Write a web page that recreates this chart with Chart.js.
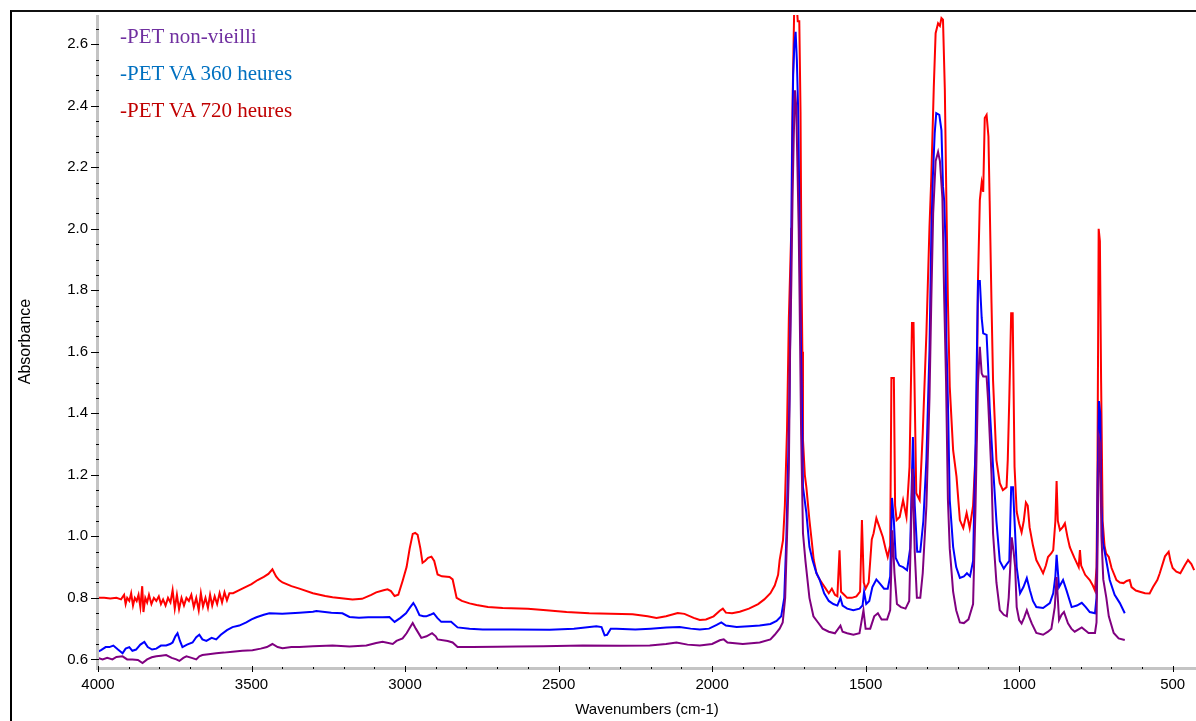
<!DOCTYPE html>
<html>
<head>
<meta charset="utf-8">
<script src="https://cdn.jsdelivr.net/npm/chart.js@4.4.1/dist/chart.umd.min.js"></script>
<style>
  html, body { margin: 0; padding: 0; background: #fff; }
  #wrap { position: relative; width: 1196px; height: 721px; overflow: hidden; }
  #frame { position: absolute; left: 10px; top: 10px; width: 1200px; height: 720px;
           border-left: 2px solid #000; border-top: 2px solid #111; pointer-events: none; }
  .leg { position: absolute; left: 120px; font-family: "Liberation Serif", "Times New Roman", serif;
         font-size: 21px; line-height: 21px; white-space: nowrap; }
</style>
</head>
<body>
<div id="wrap">
  <canvas id="chart" width="1196" height="721"></canvas>
  <div id="frame"></div>
  <div class="leg" style="top:26px;color:#7030a0">-PET non-vieilli</div>
  <div class="leg" style="top:63px;color:#0070c0">-PET VA 360 heures</div>
  <div class="leg" style="top:100px;color:#c00000">-PET VA 720 heures</div>
</div>
<script>
// tick labels
const xTicks = [4000, 3500, 3000, 2500, 2000, 1500, 1000, 500];
const yTicks = [0.6, 0.8, 1.0, 1.2, 1.4, 1.6, 1.8, 2.0, 2.2, 2.4, 2.6];

// PET VA 720 heures (red)
const redWn = [4000,3980,3960,3940,3925,3915,3910,3905,3898,3892,3886,3880,3874,3868,3862,3856,3852,3846,3840,3834,3826,3818,3810,3802,3795,3788,3780,3772,3764,3757,3750,3743,3736,3728,3720,3712,3704,3696,3688,3680,3672,3665,3658,3650,3642,3635,3628,3620,3612,3604,3596,3588,3580,3572,3560,3540,3520,3500,3480,3460,3445,3432,3420,3410,3399,3370,3344,3300,3260,3236,3200,3171,3140,3110,3094,3070,3057,3046,3034,3022,3008,2995,2985,2975,2967,2959,2950,2943,2935,2925,2914,2905,2894,2880,2855,2845,2832,2815,2790,2767,2730,2682,2600,2540,2474,2400,2330,2259,2210,2181,2150,2112,2090,2060,2040,2020,1995,1975,1965,1955,1935,1910,1880,1850,1830,1810,1796,1785,1780,1769,1763,1756,1750,1742,1740,1737,1732,1726,1721,1716,1712,1709,1706,1704,1698,1693,1683,1675,1669,1660,1650,1640,1630,1620,1610,1600,1592,1585,1580,1570,1560,1545,1530,1518,1512,1506,1500,1490,1480,1474,1465,1455,1444,1435,1428,1420,1416,1408,1404,1399,1389,1378,1367,1357,1349,1344,1335,1324,1314,1302,1292,1286,1278,1272,1264,1258,1253,1248,1242,1237,1232,1226,1215,1204,1193,1182,1171,1161,1150,1139,1134,1128,1122,1117,1112,1106,1100,1096,1090,1085,1074,1063,1053,1041,1037,1032,1026,1021,1015,1008,1000,992,985,978,972,966,955,944,932,922,913,906,895,889,882,878,874,867,858,851,843,835,820,806,802,798,785,770,760,753,748,745,741,737,733,728,722,717,708,699,683,672,660,650,640,634,620,607,590,575,564,550,542,525,513,507,500,488,475,461,450,439,430,424];
const redAbs = [0.80,0.80,0.798,0.80,0.795,0.81,0.78,0.80,0.79,0.815,0.775,0.80,0.79,0.81,0.77,0.838,0.754,0.80,0.785,0.81,0.78,0.80,0.79,0.805,0.78,0.795,0.775,0.80,0.785,0.825,0.765,0.81,0.763,0.80,0.775,0.80,0.79,0.81,0.77,0.80,0.76,0.815,0.772,0.80,0.768,0.81,0.775,0.805,0.78,0.815,0.785,0.818,0.792,0.815,0.815,0.825,0.835,0.845,0.858,0.868,0.878,0.893,0.87,0.858,0.85,0.838,0.83,0.815,0.806,0.802,0.798,0.795,0.797,0.81,0.818,0.825,0.828,0.822,0.806,0.81,0.855,0.90,0.96,1.008,1.011,1.005,0.96,0.914,0.92,0.93,0.934,0.92,0.876,0.87,0.868,0.86,0.80,0.79,0.782,0.777,0.77,0.767,0.765,0.76,0.754,0.75,0.748,0.747,0.74,0.735,0.74,0.751,0.748,0.735,0.728,0.73,0.74,0.758,0.765,0.752,0.75,0.755,0.765,0.78,0.795,0.815,0.84,0.875,0.923,0.988,1.10,1.346,1.71,2.0,2.235,2.46,2.75,2.75,2.675,2.675,2.38,1.876,1.60,1.313,1.20,1.16,1.053,0.98,0.923,0.88,0.86,0.845,0.83,0.815,0.83,0.81,0.805,0.955,0.82,0.81,0.80,0.80,0.805,0.82,1.053,0.85,0.83,0.85,0.99,1.01,1.059,1.03,0.998,0.96,0.933,0.97,1.515,1.515,1.10,1.053,1.063,1.118,1.063,1.226,1.694,1.694,1.14,1.118,1.335,1.66,2.006,2.168,2.46,2.636,2.668,2.66,2.685,2.68,2.452,2.094,1.767,1.486,1.28,1.194,1.053,1.027,1.076,1.027,1.10,1.335,1.834,2.093,2.15,2.12,2.36,2.37,2.30,2.09,1.758,1.508,1.248,1.173,1.15,1.16,1.25,1.45,1.725,1.725,1.226,1.08,1.042,1.013,1.05,1.11,1.10,1.03,0.97,0.923,0.90,0.88,0.905,0.933,0.945,0.955,1.05,1.18,1.05,1.02,1.03,1.042,1.00,0.965,0.93,0.90,0.955,0.905,0.875,0.858,0.84,0.824,0.90,1.20,2.0,1.96,1.50,1.05,0.97,0.945,0.933,0.897,0.858,0.85,0.848,0.855,0.858,0.835,0.824,0.82,0.815,0.814,0.835,0.858,0.88,0.935,0.95,0.92,0.897,0.885,0.88,0.905,0.923,0.91,0.89];

// PET VA 360 heures (blue)
const blueWn = [4000,3990,3975,3963,3950,3935,3920,3910,3898,3888,3876,3862,3849,3838,3824,3810,3795,3778,3765,3757,3748,3741,3733,3725,3710,3692,3680,3670,3660,3647,3630,3615,3600,3580,3562,3540,3517,3500,3484,3460,3442,3400,3344,3300,3289,3240,3204,3181,3150,3120,3073,3051,3034,3015,2997,2983,2973,2965,2953,2940,2931,2918,2907,2895,2882,2860,2850,2829,2790,2747,2650,2529,2450,2377,2360,2350,2342,2330,2312,2250,2200,2149,2106,2070,2040,2010,1985,1970,1955,1920,1880,1845,1810,1790,1775,1765,1758,1752,1748,1744,1740,1736,1732,1728,1724,1720,1716,1713,1708,1704,1693,1683,1673,1660,1650,1635,1620,1605,1592,1582,1575,1560,1540,1520,1510,1505,1498,1488,1478,1465,1452,1440,1428,1420,1414,1408,1402,1390,1378,1365,1355,1346,1340,1332,1322,1312,1302,1292,1286,1281,1275,1270,1260,1253,1248,1244,1240,1237,1232,1226,1215,1205,1193,1180,1170,1160,1150,1142,1134,1128,1122,1117,1106,1101,1096,1085,1074,1063,1050,1040,1032,1026,1020,1014,1008,997,986,975,965,955,944,922,900,889,882,878,870,857,846,829,812,796,783,770,753,748,744,740,736,732,727,716,705,689,672,656];
const blueAbs = [0.625,0.63,0.64,0.64,0.645,0.632,0.62,0.635,0.64,0.628,0.632,0.648,0.657,0.64,0.632,0.635,0.645,0.645,0.65,0.655,0.675,0.685,0.66,0.64,0.648,0.655,0.672,0.68,0.665,0.66,0.67,0.665,0.68,0.695,0.705,0.71,0.72,0.73,0.737,0.745,0.75,0.748,0.752,0.755,0.757,0.752,0.75,0.738,0.735,0.737,0.737,0.738,0.722,0.735,0.75,0.77,0.783,0.77,0.744,0.74,0.74,0.745,0.75,0.735,0.722,0.722,0.722,0.704,0.70,0.697,0.697,0.696,0.70,0.708,0.705,0.678,0.68,0.70,0.70,0.697,0.70,0.704,0.705,0.70,0.697,0.70,0.712,0.72,0.71,0.705,0.708,0.71,0.715,0.725,0.74,0.80,1.0,1.26,1.45,1.80,2.20,2.50,2.60,2.64,2.55,2.40,2.10,1.77,1.465,1.16,1.076,0.966,0.923,0.88,0.86,0.815,0.79,0.78,0.775,0.80,0.775,0.765,0.76,0.765,0.775,0.82,0.78,0.79,0.835,0.86,0.845,0.83,0.83,0.87,1.125,1.05,0.93,0.905,0.90,0.89,0.96,1.323,1.10,0.95,0.95,1.05,1.25,1.606,1.985,2.17,2.31,2.376,2.37,2.32,2.137,2.09,1.96,1.64,1.44,1.118,0.966,0.90,0.865,0.87,0.88,0.87,0.92,1.30,1.83,1.83,1.71,1.66,1.655,1.55,1.42,1.226,1.05,0.92,0.895,0.91,0.92,1.16,1.16,1.03,0.90,0.815,0.835,0.864,0.825,0.79,0.77,0.767,0.783,0.815,0.87,0.94,0.835,0.858,0.825,0.77,0.775,0.784,0.77,0.754,0.75,0.80,1.20,1.44,1.40,1.10,0.98,0.92,0.858,0.81,0.783,0.75];

// PET non-vieilli (purple)
const purpleWn = [4000,3985,3970,3953,3940,3920,3905,3888,3870,3855,3840,3825,3810,3795,3778,3760,3745,3735,3722,3712,3695,3680,3670,3660,3640,3615,3590,3562,3530,3497,3470,3450,3432,3415,3399,3370,3344,3300,3236,3181,3126,3094,3073,3040,3028,3008,2995,2983,2975,2965,2947,2930,2912,2900,2894,2861,2845,2829,2780,2700,2638,2550,2421,2300,2203,2150,2116,2080,2040,2000,1975,1962,1950,1900,1845,1810,1796,1780,1770,1762,1756,1750,1746,1742,1738,1734,1730,1726,1722,1718,1715,1710,1704,1696,1683,1670,1655,1640,1620,1600,1582,1575,1560,1540,1520,1507,1500,1485,1472,1460,1448,1430,1420,1413,1406,1398,1385,1370,1358,1347,1340,1333,1322,1314,1302,1292,1286,1280,1272,1264,1258,1250,1244,1238,1232,1226,1215,1205,1193,1180,1165,1150,1142,1134,1128,1122,1117,1106,1101,1090,1085,1074,1063,1050,1040,1034,1024,1018,1013,1008,1000,992,984,975,968,959,944,922,906,895,884,878,870,862,854,841,830,819,796,774,753,748,744,740,736,732,726,716,708,692,676,656];
const purpleAbs = [0.605,0.60,0.605,0.60,0.608,0.61,0.60,0.60,0.598,0.588,0.60,0.607,0.61,0.612,0.614,0.605,0.60,0.595,0.605,0.61,0.605,0.60,0.61,0.614,0.617,0.62,0.622,0.625,0.628,0.63,0.635,0.64,0.65,0.64,0.636,0.64,0.64,0.643,0.645,0.642,0.645,0.653,0.657,0.65,0.66,0.668,0.685,0.705,0.718,0.70,0.67,0.675,0.685,0.675,0.665,0.66,0.655,0.64,0.64,0.641,0.642,0.643,0.645,0.644,0.645,0.65,0.655,0.648,0.645,0.65,0.662,0.665,0.655,0.65,0.655,0.665,0.68,0.70,0.72,0.80,1.0,1.22,1.60,1.82,2.10,2.30,2.45,2.40,2.20,2.00,1.77,1.33,1.01,0.92,0.80,0.74,0.72,0.70,0.69,0.685,0.71,0.69,0.685,0.68,0.685,0.76,0.70,0.70,0.74,0.75,0.73,0.73,0.76,1.02,0.88,0.78,0.77,0.765,0.79,1.22,0.95,0.80,0.80,0.88,1.10,1.45,1.77,2.05,2.22,2.25,2.22,2.10,1.77,1.50,1.12,0.96,0.82,0.76,0.72,0.718,0.73,0.78,1.10,1.50,1.616,1.53,1.52,1.52,1.44,1.20,1.01,0.85,0.76,0.745,0.74,0.80,0.997,0.95,0.90,0.77,0.728,0.717,0.735,0.76,0.74,0.717,0.686,0.68,0.69,0.70,0.77,0.868,0.728,0.745,0.754,0.717,0.70,0.69,0.704,0.686,0.686,0.72,1.00,1.32,1.30,1.00,0.86,0.80,0.74,0.686,0.668,0.663];

function points(wn, abs) {
    return wn.map((w, i) => ({ x: w, y: abs[i] }));
}

const tickFont = { family: "'Liberation Sans', Arial, sans-serif", size: 15 };

// grey axis bars with the small black tick marks
const axisDecor = {
    id: "axisDecor",
    afterDraw(chart) {
        const { ctx, chartArea: a, scales: { x, y } } = chart;
        ctx.save();
        ctx.fillStyle = "#c4c4c4";
        ctx.fillRect(a.left - 2, a.top, 3, a.bottom - a.top + 2);
        ctx.fillRect(a.left - 2, a.bottom - 1, a.right - a.left + 2, 3);
        ctx.fillStyle = "#000";
        for (let v = 0.6; v <= 2.66; v += 0.05) {
            const py = Math.round(y.getPixelForValue(v));
            ctx.fillRect(a.left - 2, py, 3, 1);
        }
        yTicks.forEach(v => {
            const py = Math.round(y.getPixelForValue(v));
            ctx.fillRect(a.left - 7, py, 8, 1);
        });
        for (let v = 4000; v >= 430; v -= 100) {
            const px = Math.round(x.getPixelForValue(v));
            ctx.fillRect(px, a.bottom - 1, 1, 2);
        }
        xTicks.forEach(v => {
            const px = Math.round(x.getPixelForValue(v));
            ctx.fillRect(px, a.bottom - 2, 1, 6);
        });
        ctx.restore();
    }
};

new Chart(document.getElementById("chart"), {
    type: "line",
    data: {
        datasets: [
            { label: "PET non-vieilli", data: points(purpleWn, purpleAbs), borderColor: "#800080" },
            { label: "PET VA 360 heures", data: points(blueWn, blueAbs), borderColor: "#0000ff" },
            { label: "PET VA 720 heures", data: points(redWn, redAbs), borderColor: "#ff0000" }
        ]
    },
    options: {
        responsive: false,
        animation: false,
        events: [],
        layout: { padding: { top: 15, right: 0, bottom: 0, left: 0 } },
        elements: {
            line: { borderWidth: 2, tension: 0 },
            point: { radius: 0 }
        },
        datasets: { line: { clip: 0 } },
        plugins: { legend: { display: false }, tooltip: { enabled: false } },
        scales: {
            x: {
                type: "linear",
                reverse: true,
                min: 424,
                max: 4000,
                afterBuildTicks: s => { s.ticks = xTicks.map(v => ({ value: v })); },
                afterFit: s => { s.height = 53; s.paddingLeft = 0; s.paddingRight = 0; },
                grid: { display: false, drawTicks: false },
                border: { display: false },
                ticks: { font: tickFont, color: "#000", padding: 8, maxRotation: 0, autoSkip: false,
                         callback: v => String(v) },
                title: { display: true, text: "Wavenumbers (cm-1)", color: "#000",
                         font: { family: "'Liberation Sans', Arial, sans-serif", size: 15 },
                         padding: { top: 0, bottom: 2 } }
            },
            y: {
                min: 0.572,
                max: 2.695,
                afterBuildTicks: s => { s.ticks = yTicks.map(v => ({ value: v })); },
                afterFit: s => { s.width = 98; s.paddingTop = 0; s.paddingBottom = 0; },
                grid: { display: false, drawTicks: false },
                border: { display: false },
                ticks: { font: tickFont, color: "#000", padding: 10, callback: v => v.toFixed(1) },
                title: { display: true, text: "Absorbance", color: "#000",
                         font: { family: "'Liberation Sans', Arial, sans-serif", size: 16 },
                         padding: { top: 16, bottom: 0 } }
            }
        }
    },
    plugins: [axisDecor]
});
</script>
</body>
</html>
